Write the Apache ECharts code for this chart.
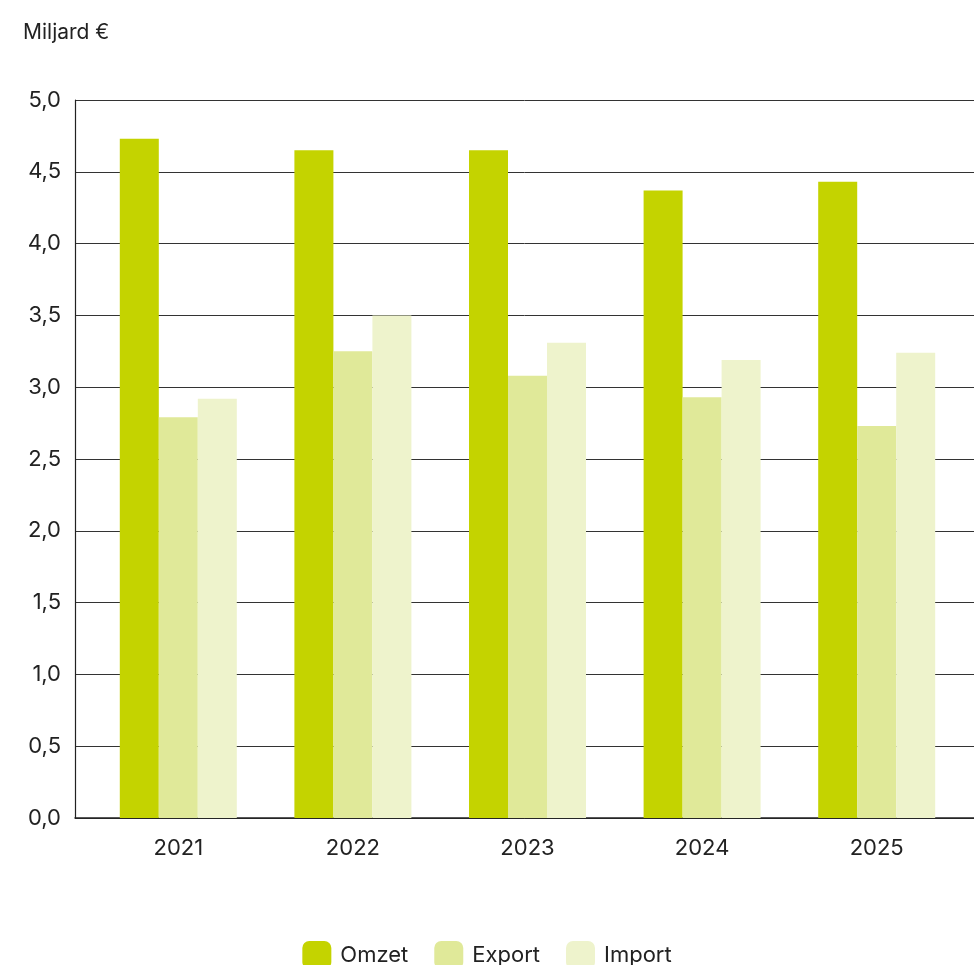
<!DOCTYPE html>
<html><head><meta charset="utf-8">
<script src="https://cdn.jsdelivr.net/npm/echarts@6/dist/echarts.min.js"></script>
<style>html,body{margin:0;padding:0;background:#fff}#c{width:974px;height:965px}</style>
</head><body><div id="c"></div>
<script>
const categories = ['2021','2022','2023','2024','2025'];
const omzet  = [4.73, 4.65, 4.65, 4.37, 4.43];
const exportV = [2.79, 3.25, 3.08, 2.93, 2.73];
const importV = [2.92, 3.50, 3.31, 3.19, 3.24];
const yTicks = {min: 0, max: 5, interval: 0.5};
const FONT = 'Inter, "Noto Sans", sans-serif';
const chart = echarts.init(document.getElementById('c'));
const fmt = v => v.toFixed(1).replace('.', ',');
chart.setOption({
  animation: false,
  textStyle: {fontFamily: FONT},
  title: {text: 'Miljard €', left: 18, top: 17, textStyle: {fontFamily: FONT, fontSize: 21, fontWeight: 'normal', color: '#222'}},
  legend: {
    top: 936, left: 'center', itemWidth: 29, itemHeight: 28, itemGap: 26, icon: 'roundRect',
    textStyle: {fontFamily: FONT, fontSize: 22, color: '#222', padding: [0, 0, 0, 4]},
    data: ['Omzet', 'Export', 'Import']
  },
  grid: [
    {left: 75, right: 0, top: 100, bottom: 147},
    {left: 91, right: 10, top: 100, bottom: 147}
  ],
  xAxis: [
    {gridIndex: 0, type: 'category', data: categories, axisLabel: {show: false}, axisTick: {show: false},
     axisLine: {lineStyle: {color: '#222', width: 1.5}}},
    {gridIndex: 1, type: 'category', data: categories, axisTick: {show: false}, axisLine: {show: false},
     axisLabel: {fontFamily: FONT, fontSize: 22, color: '#222', margin: 19}}
  ],
  yAxis: [
    {gridIndex: 0, type: 'value', min: yTicks.min, max: yTicks.max, interval: yTicks.interval,
     axisLine: {show: true, lineStyle: {color: '#222', width: 1.2}}, axisTick: {show: false},
     splitLine: {lineStyle: {color: '#333', width: 1}},
     axisLabel: {fontFamily: FONT, fontSize: 22, color: '#222', margin: 14, formatter: fmt}},
    {gridIndex: 1, type: 'value', min: yTicks.min, max: yTicks.max, interval: yTicks.interval, show: false}
  ],
  series: [
    {name: 'Omzet', type: 'bar', xAxisIndex: 1, yAxisIndex: 1, data: omzet, barWidth: 39, barGap: '0%', itemStyle: {color: '#c4d300'}},
    {name: 'Export', type: 'bar', xAxisIndex: 1, yAxisIndex: 1, data: exportV, barWidth: 39, barGap: '0%', itemStyle: {color: '#e0e999'}},
    {name: 'Import', type: 'bar', xAxisIndex: 1, yAxisIndex: 1, data: importV, barWidth: 39, barGap: '0%', itemStyle: {color: '#eef3cc'}}
  ]
});
</script></body></html>
